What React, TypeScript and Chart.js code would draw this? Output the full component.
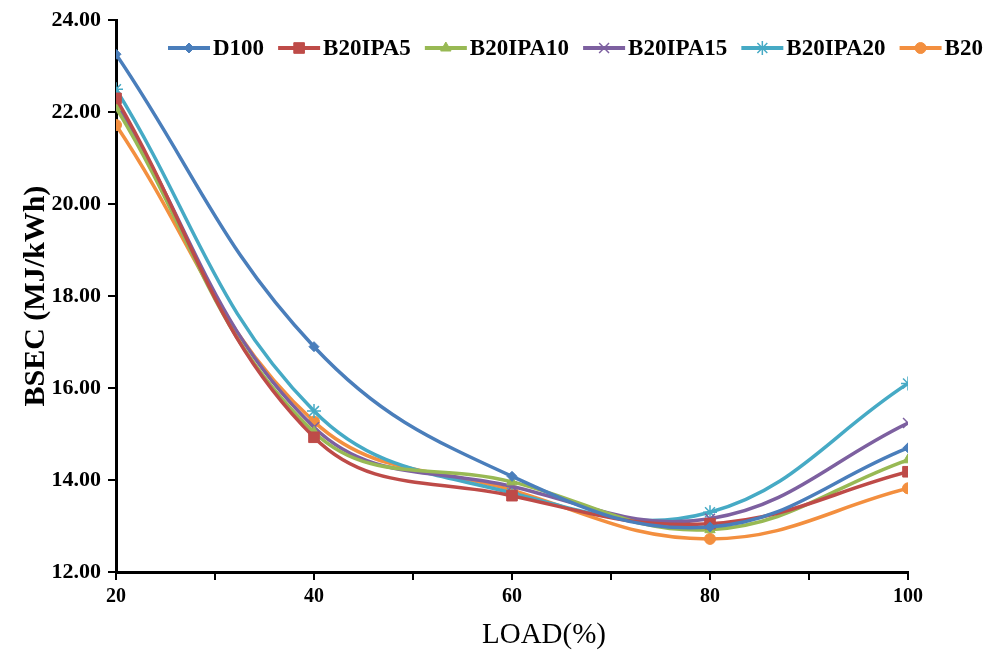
import React, { useEffect, useRef } from "react";
import { Chart, registerables } from "chart.js";
import { drawPoint } from "chart.js/helpers";

Chart.register(...registerables);

const LOADS = [20, 40, 60, 80, 100];
const D100 = [23.26, 16.9, 14.08, 12.98, 14.7];
const B20IPA5 = [22.3, 14.93, 13.66, 13.05, 14.18];
const B20IPA10 = [22.1, 15.04, 13.96, 12.92, 14.44];
const B20IPA15 = [22.2, 15.15, 13.86, 13.16, 15.24];
const B20IPA20 = [22.5, 15.5, 13.72, 13.3, 16.1];
const B20 = [21.72, 15.27, 13.78, 12.72, 13.82];

const X_TICKS = [20, 40, 60, 80, 100];
const Y_MIN = 12;
const Y_MAX = 24;

const SERIES = [
  { label: "D100", data: D100, color: "#4A7EBB", style: "rectRot", r: 5 },
  { label: "B20IPA5", data: B20IPA5, color: "#BE4B48", style: "rect", r: 7.5 },
  { label: "B20IPA10", data: B20IPA10, color: "#98B954", style: "triangle", r: 6 },
  { label: "B20IPA15", data: B20IPA15, color: "#7D60A0", style: "crossRot", r: 7 },
  { label: "B20IPA20", data: B20IPA20, color: "#46AAC5", style: "star", r: 7 },
  { label: "B20", data: B20, color: "#F38F3F", style: "circle", r: 5.5 },
];

const FONT = '"Liberation Serif", "Times New Roman", serif';

const overlayPlugin = {
  id: "overlay",
  afterDraw(chart: any) {
    const ctx = chart.ctx;
    const area = chart.chartArea;
    ctx.save();
    // legend
    ctx.font = `bold 23px ${FONT}`;
    ctx.textBaseline = "middle";
    ctx.textAlign = "left";
    let x = 168;
    const y = 48;
    chart.data.datasets.forEach((ds: any) => {
      ctx.strokeStyle = ds.borderColor;
      ctx.lineWidth = 4;
      ctx.beginPath();
      ctx.moveTo(x, y);
      ctx.lineTo(x + 42, y);
      ctx.stroke();
      ctx.fillStyle = ds.pointBackgroundColor;
      ctx.strokeStyle = ds.pointBorderColor;
      ctx.lineWidth = ds.pointBorderWidth;
      drawPoint(
        ctx,
        { pointStyle: ds.pointStyle, radius: ds.pointRadius, borderWidth: ds.pointBorderWidth, rotation: 0 },
        x + 21,
        y
      );
      ctx.fillStyle = "#000";
      ctx.fillText(ds.label, x + 45, y + 1);
      x += 45 + ctx.measureText(ds.label).width + 14;
    });
    // y title
    ctx.font = `bold 30px ${FONT}`;
    ctx.textAlign = "center";
    ctx.textBaseline = "middle";
    ctx.translate(36, (area.top + area.bottom) / 2);
    ctx.rotate(-Math.PI / 2);
    ctx.fillText("BSEC (MJ/kWh)", 0, 0);
    ctx.restore();
    // x title
    ctx.save();
    ctx.font = `29px ${FONT}`;
    ctx.fillStyle = "#000";
    ctx.textAlign = "center";
    ctx.textBaseline = "middle";
    ctx.fillText("LOAD(%)", 544, 635);
    ctx.restore();
  },
};

export default function App() {
  const ref = useRef<HTMLCanvasElement>(null);
  useEffect(() => {
    document.body.style.margin = "0";
    const chart = new Chart(ref.current as HTMLCanvasElement, {
      type: "line",
      data: {
        datasets: SERIES.map((s) => ({
          label: s.label,
          data: LOADS.map((x, i) => ({ x, y: s.data[i] })),
          borderColor: s.color,
          backgroundColor: s.color,
          borderWidth: 3.5,
          tension: 0.4,
          pointStyle: s.style,
          pointRadius: s.r,
          pointBackgroundColor: s.color,
          pointBorderColor: s.color,
          pointBorderWidth: s.style === "star" || s.style === "crossRot" ? 1.5 : 1,
          fill: false,
        })),
      },
      options: {
        animation: false,
        responsive: true,
        maintainAspectRatio: false,
        layout: { padding: { top: 20, right: 87, left: 0, bottom: 0 } },
        plugins: { legend: { display: false }, tooltip: { enabled: false }, title: { display: false } },
        scales: {
          x: {
            type: "linear",
            min: 20,
            max: 100,
            afterFit: (s: any) => {
              s.height = 85;
            },
            afterBuildTicks: (s: any) => {
              s.ticks = [20, 30, 40, 50, 60, 70, 80, 90, 100].map((v) => ({ value: v }));
            },
            ticks: {
              autoSkip: false,
              maxRotation: 0,
              padding: 5,
              color: "#000",
              font: { family: FONT, size: 20, weight: "bold" },
              callback: (v: any) => (X_TICKS.includes(Number(v)) ? String(v) : ""),
            },
            grid: { drawOnChartArea: false, drawTicks: true, tickLength: 8, color: "#000", lineWidth: 2 },
            border: { display: true, color: "#000", width: 3 },
          },
          y: {
            type: "linear",
            min: Y_MIN,
            max: Y_MAX,
            afterFit: (s: any) => {
              s.width = 116;
            },
            ticks: {
              stepSize: 2,
              autoSkip: false,
              padding: 7,
              color: "#000",
              font: { family: FONT, size: 22, weight: "bold" },
              callback: (v: any) => Number(v).toFixed(2),
            },
            grid: { drawOnChartArea: false, drawTicks: true, tickLength: 8, color: "#000", lineWidth: 2 },
            border: { display: true, color: "#000", width: 3 },
          },
        },
      },
      plugins: [overlayPlugin],
    });
    return () => chart.destroy();
  }, []);
  return (
    <div style={{ width: 995, height: 657, position: "relative" }}>
      <canvas ref={ref} />
    </div>
  );
}
